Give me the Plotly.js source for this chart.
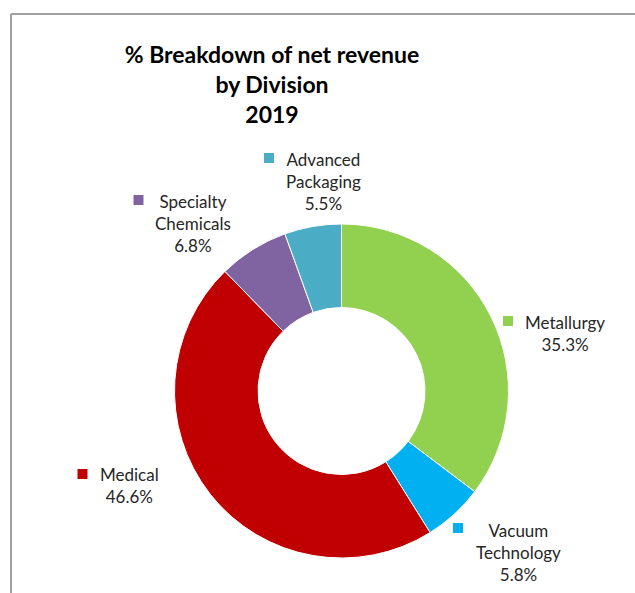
<!DOCTYPE html>
<html>
<head>
<meta charset="utf-8">
<script src="https://cdn.plot.ly/plotly-3.0.1.min.js"></script>
<style>html,body{margin:0;padding:0;background:#fff;}#chart{width:635px;height:593px;}</style>
</head>
<body>
<div id="chart"></div>
<script>
// ---- data ----
const divisions = ["Metallurgy", "Vacuum Technology", "Medical", "Specialty Chemicals", "Advanced Packaging"];
const shares = [35.3, 5.8, 46.6, 6.8, 5.5];
const sliceColors = ["#92D050", "#00B0F0", "#C00000", "#8064A2", "#4BACC6"];
const chartTitle = "% Breakdown of net revenue<br>by Division<br>2019";

// ---- layout config (pixel positions of the outside labels) ----
const W = 635, H = 593;
const labelPos = { // text block centre, legend key centre
  "Metallurgy":          {tx: 565, ty: 333, kx: 508, ky: 321},
  "Vacuum Technology":   {tx: 518, ty: 552, kx: 458, ky: 528},
  "Medical":             {tx: 129, ty: 486, kx: 82.5, ky: 474},
  "Specialty Chemicals": {tx: 193, ty: 223, kx: 138.5, ky: 200},
  "Advanced Packaging":  {tx: 323, ty: 181.5, kx: 269, ky: 158}
};
const px = x => x / W, py = y => 1 - y / H;
const FONT = "Lato, 'Open Sans', sans-serif";

const total = shares.reduce((a, b) => a + b, 0);
const annotations = [], shapes = [];
divisions.forEach((d, i) => {
  const p = labelPos[d];
  const pct = (shares[i] / total * 100).toFixed(1) + "%";
  annotations.push({
    xref: "paper", yref: "paper", x: px(p.tx), y: py(p.ty),
    xanchor: "center", yanchor: "middle", showarrow: false, align: "center",
    text: d.replace(" ", "<br>") + "<br>" + pct,
    font: {family: FONT, size: 17, color: "#262626"}
  });
  shapes.push({
    type: "rect", xref: "paper", yref: "paper",
    x0: px(p.kx - 5), x1: px(p.kx + 5), y0: py(p.ky + 5), y1: py(p.ky - 5),
    fillcolor: sliceColors[i], line: {width: 0}
  });
});
// chart frame (top and left edges visible)
shapes.push({type: "line", xref: "paper", yref: "paper", x0: px(11), x1: 1, y0: py(14), y1: py(14), line: {color: "#A0A0A0", width: 2}});
shapes.push({type: "line", xref: "paper", yref: "paper", x0: px(11), x1: px(11), y0: py(14), y1: 0, line: {color: "#A0A0A0", width: 2}});

const cx = 341.5, cy = 391, R = 167;
const trace = {
  type: "pie",
  labels: divisions,
  values: shares,
  hole: 0.5,
  sort: false,
  direction: "clockwise",
  rotation: 0,
  marker: {colors: sliceColors, line: {color: "#FFFFFF", width: 1}},
  textinfo: "none",
  hoverinfo: "label+percent",
  domain: {x: [px(cx - R), px(cx + R)], y: [py(cy + R), py(cy - R)]}
};

const layout = {
  width: W, height: H,
  margin: {l: 0, r: 0, t: 0, b: 0},
  paper_bgcolor: "#FFFFFF",
  showlegend: false,
  title: {
    text: chartTitle,
    x: px(272), xanchor: "center", xref: "paper",
    y: py(63), yanchor: "top", yref: "container",
    font: {family: FONT, size: 23, color: "#000000", weight: "bold"}
  },
  annotations: annotations,
  shapes: shapes
};

Plotly.newPlot("chart", [trace], layout, {displayModeBar: false, staticPlot: true});
</script>
</body>
</html>
